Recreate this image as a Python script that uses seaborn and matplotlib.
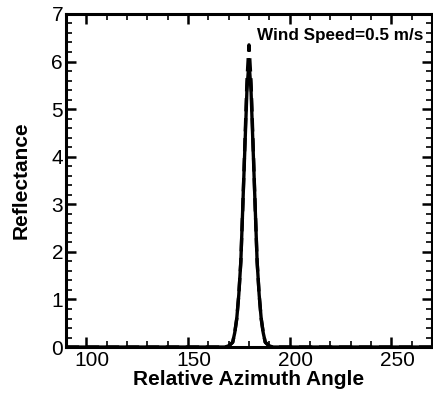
import numpy as np
import pandas as pd
import seaborn as sns
import matplotlib
matplotlib.use("Agg")
import matplotlib.pyplot as plt
from matplotlib.ticker import MultipleLocator
from matplotlib.transforms import ScaledTranslation

# Data
angle = [90, 160, 166, 168, 170, 172, 173, 174, 175, 176, 177, 178, 179, 180,
         181, 182, 183, 184, 185, 186, 187, 188, 190, 192, 194, 200, 270]
refl_solid = [0, 0, 0, 0, 0.02, 0.1, 0.3, 0.6, 1.1, 1.8, 3.0, 4.2, 5.4, 6.0,
              5.4, 4.2, 3.0, 1.8, 1.1, 0.6, 0.3, 0.1, 0.02, 0, 0, 0, 0]
refl_dashed = [0, 0, 0, 0, 0.02, 0.1, 0.3, 0.6, 1.1, 1.8, 3.0, 4.3, 5.6, 6.35,
               5.6, 4.3, 3.0, 1.8, 1.1, 0.6, 0.3, 0.1, 0.02, 0, 0, 0, 0]
x_ticks = [100, 150, 200, 250]
y_ticks = [0, 1, 2, 3, 4, 5, 6, 7]
annotation = "Wind Speed=0.5 m/s"

sns.set_style("ticks")
plt.rcParams["font.family"] = ["Liberation Sans", "DejaVu Sans"]
plt.rcParams["text.color"] = "black"
plt.rcParams["axes.labelcolor"] = "black"
plt.rcParams["xtick.color"] = "black"
plt.rcParams["ytick.color"] = "black"
plt.rcParams["axes.edgecolor"] = "black"

df_s = pd.DataFrame({"angle": angle, "refl": refl_solid})
df_d = pd.DataFrame({"angle": angle, "refl": refl_dashed})

fig = plt.figure(figsize=(4.33, 3.98), dpi=100)
ax = fig.add_axes([0.152, 0.128, 0.846, 0.837])

sns.lineplot(data=df_d, x="angle", y="refl", ax=ax, color="black",
             linewidth=2.4, linestyle=(0, (4, 2)), estimator=None, sort=False)
sns.lineplot(data=df_s, x="angle", y="refl", ax=ax, color="black",
             linewidth=2.4, estimator=None, sort=False)

ax.set_xlim(90, 270)
ax.set_ylim(0, 7)
ax.set_xticks(x_ticks)
ax.set_yticks(y_ticks)
ax.xaxis.set_minor_locator(MultipleLocator(10))
ax.yaxis.set_minor_locator(MultipleLocator(0.2))

for s in ax.spines.values():
    s.set_visible(True)
    s.set_linewidth(2.2)
    s.set_color("black")

ax.tick_params(which="both", direction="in", top=True, right=True,
               colors="black", labelcolor="black", labelsize=15)
ax.tick_params(which="major", length=7, width=1.8)
ax.tick_params(which="minor", length=4, width=1.2)
ax.tick_params(axis="x", pad=3)
ax.tick_params(axis="y", pad=2)

off = ScaledTranslation(6 / 100, 0, fig.dpi_scale_trans)
for lab in ax.get_xticklabels():
    lab.set_transform(lab.get_transform() + off)

ax.set_xlabel("Relative Azimuth Angle", fontsize=15, fontweight="bold",
              labelpad=0, color="black")
ax.set_ylabel("Reflectance", fontsize=15, fontweight="bold", labelpad=15,
              color="black")

ax.text(0.975, 0.935, annotation, transform=ax.transAxes, ha="right", va="center",
        fontsize=12.3, fontweight="bold", color="black")

fig.savefig("out.png", dpi=100)
